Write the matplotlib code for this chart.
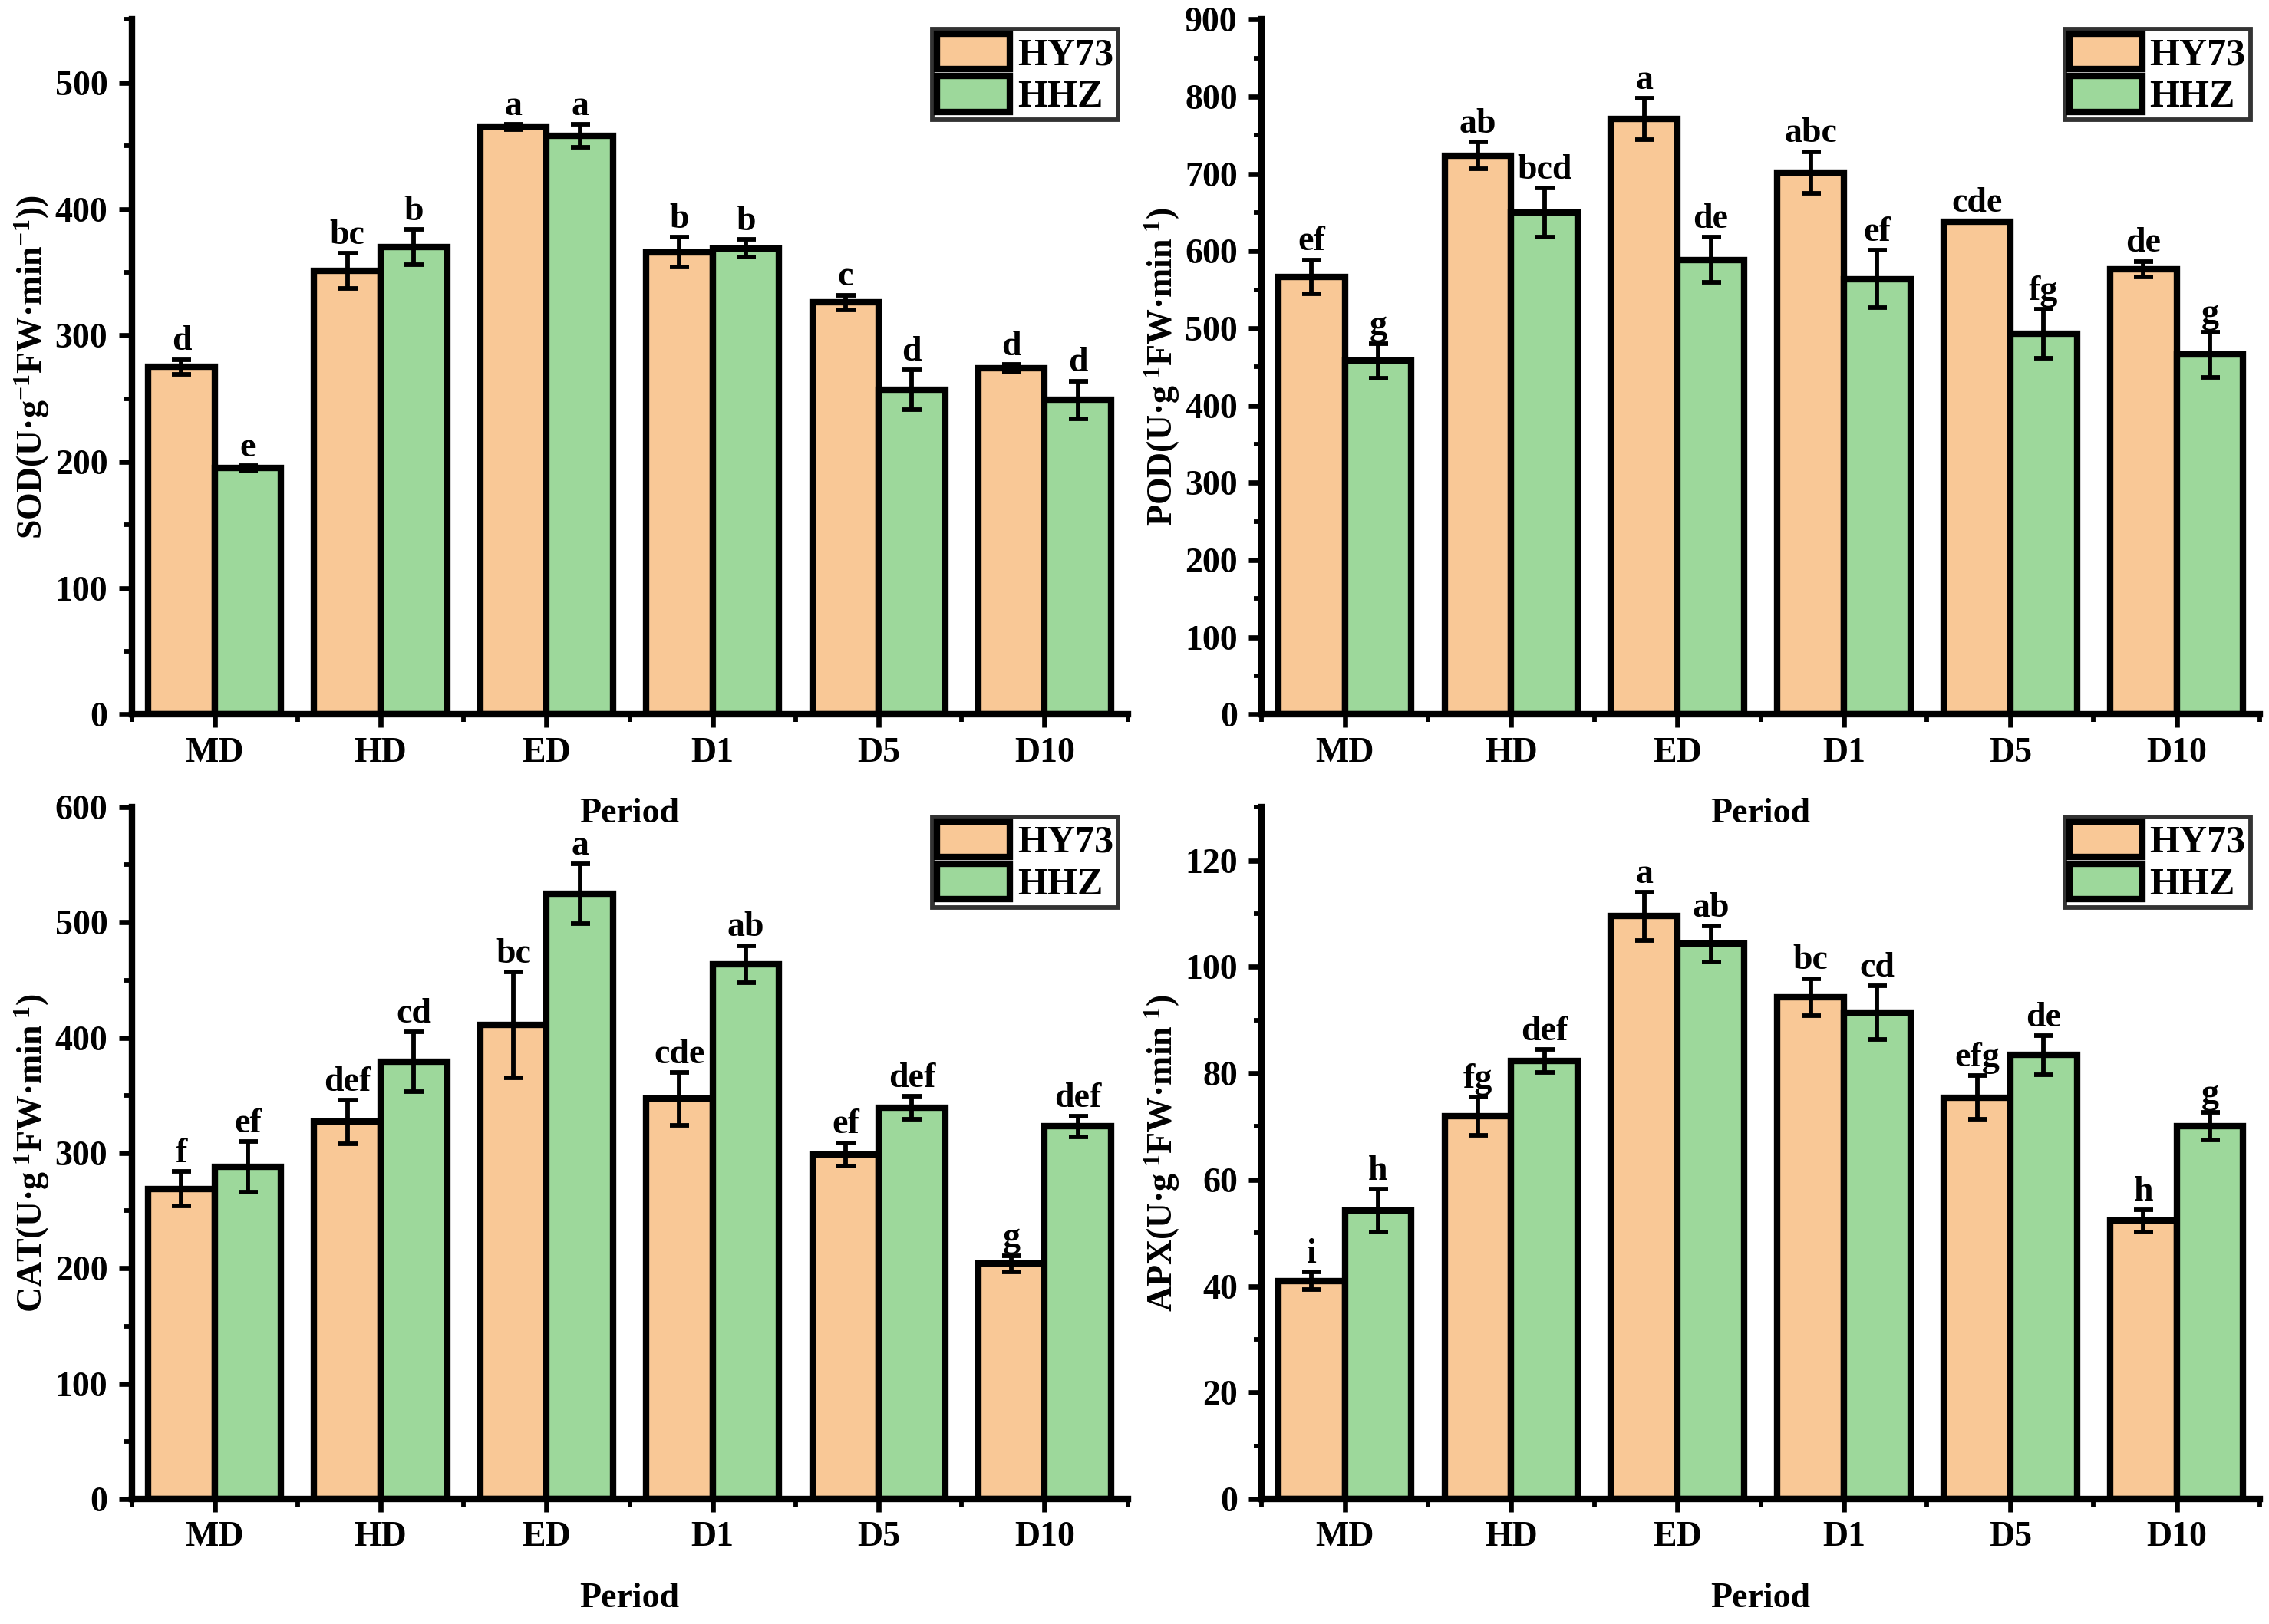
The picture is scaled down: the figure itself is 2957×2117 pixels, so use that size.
import numpy as np
import matplotlib
matplotlib.use("Agg")
import matplotlib.pyplot as plt
from matplotlib.ticker import MultipleLocator, FixedLocator

plt.rcParams['font.family'] = ['Liberation Serif', 'DejaVu Serif']
plt.rcParams['font.weight'] = 'bold'
plt.rcParams['mathtext.fontset'] = 'custom'
plt.rcParams['mathtext.rm'] = 'Liberation Serif:bold'
plt.rcParams['mathtext.bf'] = 'Liberation Serif:bold'
plt.rcParams['mathtext.it'] = 'Liberation Serif:bold:italic'

periods = ['MD', 'HD', 'ED', 'D1', 'D5', 'D10']
cultivars = ['HY73', 'HHZ']

# SOD
sod_hy73 = [275, 351, 465, 366, 326, 274]
sod_hy73_err = [6, 14, 2, 12, 6, 3]
sod_hhz = [195, 370, 458, 369, 257, 249]
sod_hhz_err = [2, 14, 9, 7, 16, 15]
sod_hy73_let = ['d', 'bc', 'a', 'b', 'c', 'd']
sod_hhz_let = ['e', 'b', 'a', 'b', 'd', 'd']

# POD
pod_hy73 = [567, 724, 771, 702, 638, 577]
pod_hy73_err = [22, 17, 27, 27, 1, 10]
pod_hhz = [458, 650, 589, 564, 493, 466]
pod_hhz_err = [22, 32, 29, 37, 32, 29]
pod_hy73_let = ['ef', 'ab', 'a', 'abc', 'cde', 'de']
pod_hhz_let = ['g', 'bcd', 'de', 'ef', 'fg', 'g']

# CAT
cat_hy73 = [269, 327, 411, 347, 299, 204]
cat_hy73_err = [15, 19, 46, 23, 10, 7]
cat_hhz = [288, 379, 525, 464, 339, 323]
cat_hhz_err = [22, 26, 26, 16, 10, 9]
cat_hy73_let = ['f', 'def', 'bc', 'cde', 'ef', 'g']
cat_hhz_let = ['ef', 'cd', 'a', 'ab', 'def', 'def']

# APX
apx_hy73 = [41.0, 71.9, 109.5, 94.3, 75.4, 52.3]
apx_hy73_err = [1.6, 3.6, 4.5, 3.5, 4.1, 2.1]
apx_hhz = [54.2, 82.3, 104.3, 91.4, 83.4, 70.1]
apx_hhz_err = [4.0, 2.1, 3.4, 5.0, 3.7, 2.6]
apx_hy73_let = ['i', 'fg', 'a', 'bc', 'efg', 'h']
apx_hhz_let = ['h', 'def', 'ab', 'cd', 'de', 'g']

orange = '#F9C896'
green = '#9DD89B'

fig = plt.figure(figsize=(2957 / 300, 2117 / 300), dpi=300)

panels = [
    ([0.058, 0.560, 0.439, 0.428], sod_hy73, sod_hy73_err, sod_hhz, sod_hhz_err,
     sod_hy73_let, sod_hhz_let, 550, 100, 50,
     'SOD(U·g$^{-1}$FW·min$^{-1}$))'),
    ([0.556, 0.560, 0.440, 0.428], pod_hy73, pod_hy73_err, pod_hhz, pod_hhz_err,
     pod_hy73_let, pod_hhz_let, 900, 100, 50,
     'POD(U·g$^{\\ 1}$FW·min$^{\\ 1}$)'),
    ([0.058, 0.077, 0.439, 0.426], cat_hy73, cat_hy73_err, cat_hhz, cat_hhz_err,
     cat_hy73_let, cat_hhz_let, 600, 100, 50,
     'CAT(U·g$^{\\ 1}$FW·min$^{\\ 1}$)'),
    ([0.556, 0.077, 0.440, 0.426], apx_hy73, apx_hy73_err, apx_hhz, apx_hhz_err,
     apx_hy73_let, apx_hhz_let, 130, 20, 10,
     'APX(U·g$^{\\ 1}$FW·min$^{\\ 1}$)'),
]

x = np.arange(len(periods))
w = 0.4

for rect, v1, e1, v2, e2, l1, l2, ytop, major, minor, ylab in panels:
    ax = fig.add_axes(rect)
    ax.set_facecolor('none')
    ax.bar(x - w / 2, v1, w, color=orange, edgecolor='black', linewidth=2, label=cultivars[0], zorder=2)
    ax.bar(x + w / 2, v2, w, color=green, edgecolor='black', linewidth=2, label=cultivars[1], zorder=2)
    ax.errorbar(x - w / 2, v1, yerr=e1, fmt='none', ecolor='black', elinewidth=1.4,
                capsize=3, capthick=1.4, zorder=3)
    ax.errorbar(x + w / 2, v2, yerr=e2, fmt='none', ecolor='black', elinewidth=1.4,
                capsize=3, capthick=1.4, zorder=3)
    for xi, v, e, t in zip(x - w / 2, v1, e1, l1):
        ax.annotate(t, (xi, v + e), xytext=(0, 0.5), textcoords='offset points',
                    ha='center', va='bottom', fontsize=11, fontweight='bold')
    for xi, v, e, t in zip(x + w / 2, v2, e2, l2):
        ax.annotate(t, (xi, v + e), xytext=(0, 0.5), textcoords='offset points',
                    ha='center', va='bottom', fontsize=11, fontweight='bold')

    ax.set_xlim(-0.5, 5.5)
    ax.set_ylim(0, ytop)
    ax.set_xticks(x)
    ax.set_xticklabels(periods, fontsize=11, fontweight='bold')
    ax.xaxis.set_minor_locator(FixedLocator(np.arange(-0.5, 6, 1.0)))
    ax.yaxis.set_major_locator(MultipleLocator(major))
    ax.yaxis.set_minor_locator(MultipleLocator(minor))
    for lab in ax.get_yticklabels():
        lab.set_fontweight('bold')
        lab.set_fontsize(11)
    ax.tick_params(which='major', direction='out', length=4, width=1.6)
    ax.tick_params(which='minor', direction='out', length=2.5, width=1.4)
    ax.tick_params(axis='x', which='major', pad=3)
    for s in ['top', 'right']:
        ax.spines[s].set_visible(False)
    for s in ['left', 'bottom']:
        ax.spines[s].set_linewidth(2)
    ax.set_xlabel('Period', fontsize=11, fontweight='bold', labelpad=9)
    ax.set_ylabel(ylab, fontsize=11, fontweight='bold', labelpad=1)

    leg = ax.legend(loc='upper right', fontsize=12, frameon=True, fancybox=False,
                    edgecolor='black', handlelength=1.9, handleheight=1.05,
                    labelspacing=0.08, borderpad=0.12, handletextpad=0.2,
                    borderaxespad=0.25)
    leg.get_frame().set_linewidth(1.4)
    for t in leg.get_texts():
        t.set_fontweight('bold')

fig.savefig('out.png', dpi=300)
